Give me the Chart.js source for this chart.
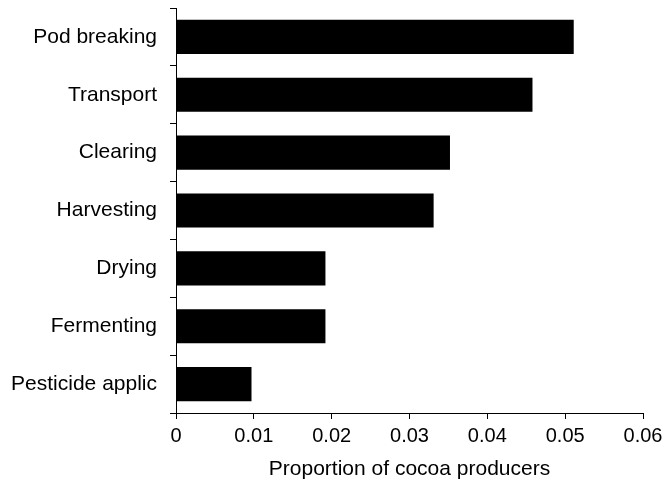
<!DOCTYPE html>
<html>
<head>
<meta charset="utf-8">
<script src="https://cdn.jsdelivr.net/npm/chart.js@4/dist/chart.umd.min.js"></script>
<style>
  html, body { margin: 0; padding: 0; background: #fff; }
  #wrap { width: 663px; height: 486px; }
</style>
</head>
<body>
<div id="wrap"><canvas id="chart" width="663" height="486"></canvas></div>
<script>
// Activities in cocoa production, top to bottom
const categories = ["Pod breaking", "Transport", "Clearing", "Harvesting", "Drying", "Fermenting", "Pesticide applic"];
// Proportion of cocoa producers reporting each activity
const proportions = [0.0511, 0.0458, 0.0352, 0.0331, 0.0192, 0.0192, 0.0097];
// X axis tick values
const xTicks = [0, 0.01, 0.02, 0.03, 0.04, 0.05, 0.06];

const FONT = "'Liberation Sans', Arial, sans-serif";

new Chart(document.getElementById("chart"), {
  type: "bar",
  data: {
    labels: categories,
    datasets: [{
      data: proportions,
      backgroundColor: "#000",
      borderWidth: 0,
      categoryPercentage: 1,
      barPercentage: 0.59
    }]
  },
  options: {
    indexAxis: "y",
    responsive: false,
    animation: false,
    devicePixelRatio: 1,
    layout: { padding: { top: 8, right: 20, left: 0, bottom: 0 } },
    plugins: { legend: { display: false }, tooltip: { enabled: false } },
    scales: {
      x: {
        type: "linear",
        min: 0,
        max: 0.06,
        afterBuildTicks: (s) => { s.ticks = xTicks.map(v => ({ value: v })); },
        afterFit: (s) => { s.height = 73; s.paddingLeft = 0; s.paddingRight = 0; },
        border: { display: true, color: "#000", width: 1 },
        grid: { display: true, drawOnChartArea: false, drawTicks: true, tickLength: 6, color: "#000" },
        ticks: {
          color: "#000",
          padding: 5,
          font: { family: FONT, size: 20 },
          callback: (v) => String(v)
        },
        title: {
          display: true,
          text: "Proportion of cocoa producers",
          color: "#000",
          font: { family: FONT, size: 21 },
          padding: { top: 0, bottom: 4 }
        }
      },
      y: {
        type: "category",
        afterFit: (s) => { s.width = 176; s.paddingTop = 0; s.paddingBottom = 0; },
        border: { display: true, color: "#000", width: 1 },
        grid: { display: true, offset: true, drawOnChartArea: false, drawTicks: true, tickLength: 6, color: "#000" },
        ticks: {
          color: "#000",
          padding: 13,
          font: { family: FONT, size: 21 }
        }
      }
    }
  }
});
</script>
</body>
</html>
